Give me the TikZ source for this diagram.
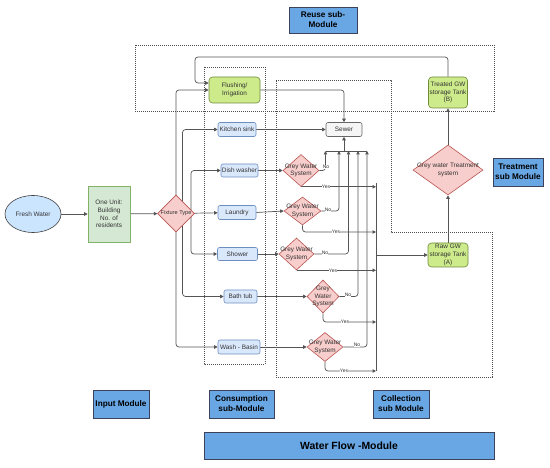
\documentclass[tikz,border=0pt]{standalone}
\usepackage{fontspec}
\setmainfont{Liberation Sans}
\usetikzlibrary{shapes.geometric,arrows.meta,calc}
\definecolor{lineC}{RGB}{85,85,85}
\definecolor{txtC}{RGB}{51,51,51}
\definecolor{blueF}{HTML}{DAE8FC}
\definecolor{blueS}{HTML}{6C8EBF}
\definecolor{greenF}{HTML}{D5E8D4}
\definecolor{greenS}{HTML}{82B366}
\definecolor{limeF}{HTML}{CDEB8B}
\definecolor{limeS}{HTML}{6E8A3A}
\definecolor{pinkF}{HTML}{F8CECC}
\definecolor{pinkS}{HTML}{B85450}
\definecolor{grayF}{HTML}{F5F5F5}
\definecolor{grayS}{HTML}{666666}
\definecolor{waterF}{HTML}{CCE5FF}
\definecolor{modF}{RGB}{104,166,228}
\definecolor{modS}{RGB}{60,66,90}
\pgfdeclarelayer{background}
\pgfsetlayers{background,main}
\tikzset{
  base/.style={font=\fontsize{6.4}{7.7}\selectfont, text=txtC, align=center, inner sep=0pt, line width=0.6pt},
  bluebox/.style={base, rectangle, rounded corners=2pt, draw=blueS, fill=blueF},
  limebox/.style={base, rectangle, rounded corners=3.5pt, draw=limeS, fill=limeF},
  greenbox/.style={base, rectangle, draw=greenS, fill=greenF},
  graybox/.style={base, rectangle, rounded corners=2pt, draw=grayS, fill=grayF},
  dia/.style={base, diamond, draw=pinkS, fill=pinkF},
  dlabel/.style={font=\fontsize{6.4}{7.3}\selectfont, text=txtC, align=center, inner sep=0pt},
  modbox/.style={rectangle, draw=modS, fill=modF, line width=0.7pt, align=center, inner sep=0pt,
    font=\fontsize{8.2}{10}\selectfont\bfseries, text=black},
  region/.style={draw=black!70, line width=0.5pt, dash pattern=on 1pt off 1pt},
  flow/.style={draw=lineC, line width=0.7pt, rounded corners=3pt, -{Triangle[length=3.5pt,width=3.5pt]}},
  plain/.style={draw=lineC, line width=0.7pt, rounded corners=3pt},
  yn/.style={font=\fontsize{5}{5}\selectfont, text=txtC, fill=white, inner sep=0.3pt}
}
\begin{document}
\begin{tikzpicture}[x=1pt,y=-1pt]
\useasboundingbox (0,0) rectangle (550,468);

% module labels
\node[modbox, minimum width=68pt, minimum height=26pt] (reusebox) at (323,20) {Reuse sub-\\Module};
\node[modbox, minimum width=50pt, minimum height=28pt] (treatbox) at (518,172) {Treatment\\sub Module};
\node[modbox, minimum width=56pt, minimum height=28pt] (inputbox) at (121,404) {Input Module};
\node[modbox, minimum width=65pt, minimum height=28pt] (consbox) at (241.5,404) {Consumption\\sub-Module};
\node[modbox, minimum width=56pt, minimum height=28pt] (collbox) at (401,404) {Collection\\sub Module};
\node[modbox, minimum width=290pt, minimum height=27pt, font=\fontsize{10.4}{12}\selectfont\bfseries] (waterflow) at (349,445.5) {Water Flow -Module};

% main nodes
\node[base, ellipse, draw=black!75, fill=waterF, minimum width=56pt, minimum height=37pt] (fresh) at (33,214) {Fresh Water};
\node[greenbox, minimum width=42pt, minimum height=56pt] (oneunit) at (109,214) {One Unit:\\Building\\No. of\\residents};
\node[dia, minimum width=37pt, minimum height=37pt,
  label={[dlabel, font=\fontsize{5.6}{6}\selectfont]center:Fixture Type}] (fixture) at (176,213.5) {};

\node[limebox, minimum width=51pt, minimum height=26pt] (flushing) at (234.5,90) {Flushing/\\Irrigation};
\node[bluebox, minimum width=38pt, minimum height=14pt] (kitchen) at (237,129.5) {Kitchen sink};
\node[bluebox, minimum width=37pt, minimum height=13pt] (dish) at (239.5,170.5) {Dish washer};
\node[bluebox, minimum width=38pt, minimum height=14pt] (laundry) at (237,212.5) {Laundry};
\node[bluebox, minimum width=40pt, minimum height=13pt] (shower) at (237.5,254) {Shower};
\node[bluebox, minimum width=33pt, minimum height=13pt] (bathtub) at (240.5,296.5) {Bath tub};
\node[bluebox, minimum width=42pt, minimum height=14pt] (basin) at (239,347) {Wash - Basin};

\node[graybox, minimum width=36pt, minimum height=14pt] (sewer) at (344,129.5) {Sewer};

\node[dia, minimum width=36pt, minimum height=32pt, label={[dlabel]center:Grey Water\\System}] (gws1) at (301,170.5) {};
\node[dia, minimum width=37pt, minimum height=28pt, label={[dlabel]center:Grey Water\\System}] (gws2) at (302.5,211) {};
\node[dia, minimum width=35pt, minimum height=32pt, label={[dlabel]center:Grey Water\\System}] (gws3) at (296.5,254) {};
\node[dia, minimum width=32pt, minimum height=33pt, label={[dlabel]center:Grey\\Water\\System}] (gws4) at (323,296.5) {};
\node[dia, minimum width=36pt, minimum height=29pt, label={[dlabel]center:Grey Water\\System}] (gws5) at (325,347) {};

\node[limebox, minimum width=40pt, minimum height=24pt] (rawtank) at (448,255) {Raw GW\\storage Tank\\(A)};
\node[dia, minimum width=70pt, minimum height=50pt, label={[dlabel]center:Grey water Treatment\\system}] (treatment) at (448,170) {};
\node[limebox, minimum width=39pt, minimum height=31pt] (treated) at (448,92.5) {Treated GW\\storage Tank\\(B)};

% coordinates
\coordinate (loopcorner) at (195,57);
\coordinate (bus1) at (325.5,151);
\coordinate (bus2) at (339,151);
\coordinate (bus3) at (348.5,151);
\coordinate (bus4) at (358,151);
\coordinate (bus5) at (367,151);
\coordinate (coltop) at (376,183);
\coordinate (colbot) at (376,371);
\coordinate (colout) at (376,255);

% yes/no labels
\node[yn] (no1) at (326,167) {No};
\node[yn] (no2) at (328,209.5) {No};
\node[yn] (no3) at (325,252.5) {No};
\node[yn] (no4) at (348,294.5) {No};
\node[yn] (no5) at (357,345) {No};
\node[yn] (yes1) at (326,186.5) {Yes};
\node[yn] (yes2) at (336,232) {Yes};
\node[yn] (yes3) at (333,270.5) {Yes};
\node[yn] (yes4) at (345,322) {Yes};
\node[yn] (yes5) at (344,371) {Yes};

\begin{pgfonlayer}{background}
% dotted regions
\draw[region] (135,45) rectangle (494,111);
\draw[region] (204,67) rectangle (265,364);
\draw[region] (276,80) -- (391,80) -- (391,232) -- (492,232) -- (492,377) -- (276,377) -- cycle;

% input chain
\draw[flow] (fresh) -- (oneunit);
\draw[flow] (oneunit) -- (fixture);
% fixture branches
\draw[flow] (fixture) -- (laundry);
\draw[flow] ($(fixture.center)+(15,0)$) |- (dish);
\draw[flow] ($(fixture.center)+(15,0)$) |- (shower);
\draw[flow] ($(fixture.center)+(6.5,0)$) |- (kitchen);
\draw[flow] ($(fixture.center)+(6.5,0)$) |- (bathtub);
\draw[flow] (fixture.center) |- (flushing);
\draw[flow] (fixture.center) |- (basin);
% reuse loop
\draw[flow] (treated.north) |- (loopcorner) |- ($(flushing.west)+(0,-7)$);
% to sewer
\draw[flow] (flushing) -| (sewer);
\draw[flow] (kitchen) -- (sewer);
\draw[plain] (bus1) -- (bus5);
\draw[flow] (sewer.south |- bus1) -- (sewer.south);
% consumption to grey water systems
\draw[flow] (dish) -- (gws1);
\draw[flow] (laundry.east) -- (gws2.west);
\draw[flow] (shower) -- (gws3);
\draw[flow] (bathtub) -- (gws4);
\draw[flow] (basin) -- (gws5);
% No branches
\draw[flow] (gws1.east) -| (bus1);
\draw[flow] (gws2.east) -| (bus2);
\draw[flow] (gws3.east) -| (bus3);
\draw[flow] (gws4.east) -| (bus4);
\draw[flow] (gws5.east) -| (bus5);
% Yes branches
\draw[flow] (gws1.south) -- (gws1.south -| coltop);
\draw[flow] (gws2.south) |- ($(coltop)+(0,49)$);
\draw[flow] (gws3.south) -- (gws3.south -| coltop);
\draw[flow] (gws4.south) |- ($(coltop)+(0,139)$);
\draw[flow] (gws5.south) |- (colbot);
\draw[plain] (coltop) -- (colbot);
% treatment chain
\draw[flow] (colout) -- (rawtank);
\draw[flow] (rawtank) -- (treatment);
\draw[flow] (treatment) -- (treated);
\end{pgfonlayer}
\end{tikzpicture}
\end{document}
